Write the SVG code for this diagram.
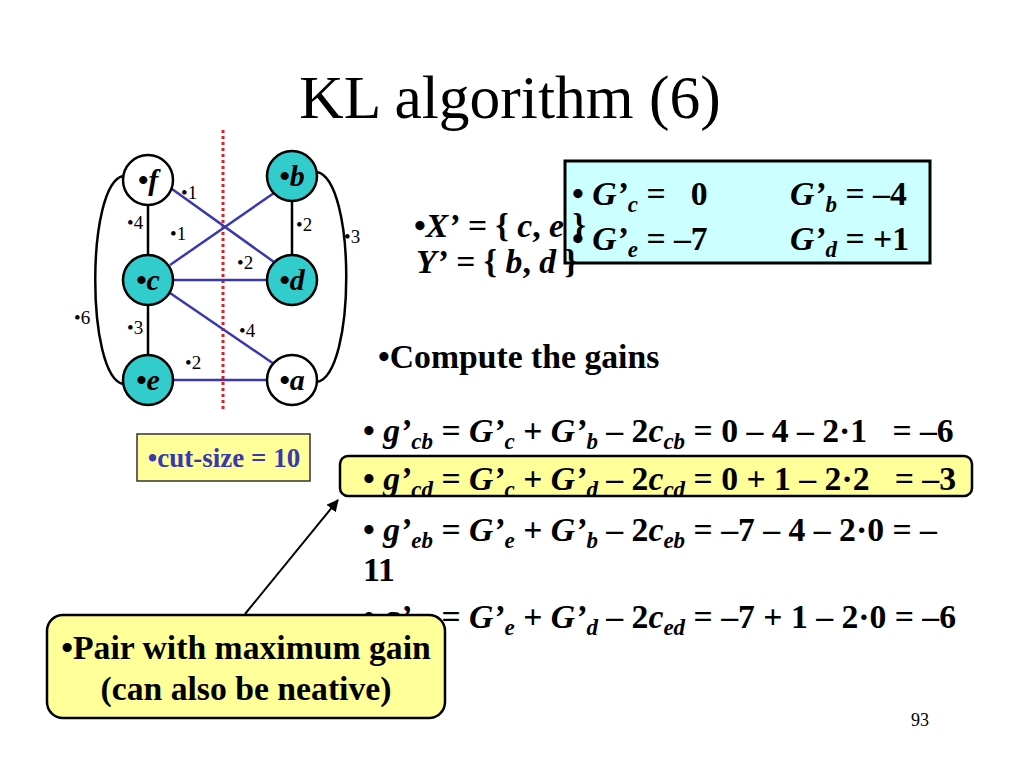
<svg xmlns="http://www.w3.org/2000/svg" width="1024" height="768" viewBox="0 0 1024 768">
<style>
.t{font-family:"Liberation Serif","Times New Roman",serif;}
.b{font-weight:bold;}
.i{font-style:italic;}
.node{stroke:#000;stroke-width:2.5;}
.teal{fill:#33CCCC;}
.white{fill:#fff;}
.nl{font-family:"Liberation Serif","Times New Roman",serif;font-weight:bold;font-style:italic;font-size:30px;text-anchor:middle;}
.w{font-family:"Liberation Serif","Times New Roman",serif;font-size:19px;}
.blk{stroke:#000;stroke-width:2.5;fill:none;}
.blu{stroke:#3838B0;stroke-width:2.5;fill:none;}
.eq{font-family:"Liberation Serif","Times New Roman",serif;font-weight:bold;font-size:33.7px;}
.s{font-size:23px;font-style:italic;}
</style>
<defs>
<marker id="ah" markerWidth="12" markerHeight="12" refX="11" refY="6" orient="auto" markerUnits="userSpaceOnUse">
<path d="M0,0 L12,6 L0,12 z" fill="#000"/>
</marker>
</defs>
<rect width="1024" height="768" fill="#fff"/>
<text class="t" x="510" y="118" font-size="61.5" text-anchor="middle">KL algorithm (6)</text>

<line x1="223" y1="130" x2="223" y2="412" stroke="#E02020" stroke-width="3" stroke-dasharray="3,3"/>

<g id="connectors">
<line class="blk" x1="148" y1="205" x2="148" y2="255"/>
<line class="blk" x1="148" y1="305" x2="148" y2="355"/>
<line class="blk" x1="292" y1="201" x2="292" y2="255"/>
<path class="blk" d="M123,176 C86,184 86,376 123,384"/>
<path class="blk" d="M317,172 C356,180 356,374 317,382"/>
<line class="blu" x1="172" y1="189" x2="274" y2="262"/>
<line class="blu" x1="170" y1="265" x2="274" y2="193"/>
<line class="blu" x1="173" y1="280" x2="267" y2="280"/>
<line class="blu" x1="170" y1="293" x2="274" y2="364"/>
<line class="blu" x1="173" y1="380" x2="267" y2="380"/>
<line x1="245" y1="614" x2="338" y2="500" stroke="#000" stroke-width="2" marker-end="url(#ah)"/>
</g>

<g id="weights">
<text class="w" x="181" y="199">•1</text>
<text class="w" x="127" y="229">•4</text>
<text class="w" x="170" y="240">•1</text>
<text class="w" x="296" y="231">•2</text>
<text class="w" x="344" y="243">•3</text>
<text class="w" x="237" y="269">•2</text>
<text class="w" x="74" y="324">•6</text>
<text class="w" x="127" y="334">•3</text>
<text class="w" x="239" y="337">•4</text>
<text class="w" x="185" y="369">•2</text>
</g>

<g id="node-f"><circle class="node white" cx="148" cy="180" r="25"/><text class="nl" x="148" y="190">•f</text></g>
<g id="node-b"><circle class="node teal" cx="292" cy="176" r="25"/><text class="nl" x="292" y="186">•b</text></g>
<g id="node-c"><circle class="node teal" cx="148" cy="280" r="25"/><text class="nl" x="148" y="290">•c</text></g>
<g id="node-d"><circle class="node teal" cx="292" cy="280" r="25"/><text class="nl" x="292" y="290">•d</text></g>
<g id="node-e"><circle class="node teal" cx="148" cy="380" r="25"/><text class="nl" x="148" y="390">•e</text></g>
<g id="node-a"><circle class="node white" cx="292" cy="380" r="25"/><text class="nl" x="292" y="390">•a</text></g>

<g id="cutsize">
<rect x="137" y="434" width="173" height="47" fill="#FFFF99" stroke="#333" stroke-width="1.5"/>
<text class="t b" x="224" y="467" font-size="27" fill="#3838B0" text-anchor="middle">•cut-size = 10</text>
</g>

<g id="gbox">
<rect x="565" y="161" width="365" height="102" fill="#CCFFFF" stroke="#000" stroke-width="3"/>
<text class="eq" x="572" y="205" font-size="32" xml:space="preserve">• <tspan class="i">G’</tspan><tspan class="s" dy="7">c</tspan><tspan dy="-7"> =   0</tspan></text>
<text class="eq" x="790" y="205" font-size="32"><tspan class="i">G’</tspan><tspan class="s" dy="7">b</tspan><tspan dy="-7"> = –4</tspan></text>
<text class="eq" x="572" y="250" font-size="32" xml:space="preserve">• <tspan class="i">G’</tspan><tspan class="s" dy="7">e</tspan><tspan dy="-7"> = –7</tspan></text>
<text class="eq" x="790" y="250" font-size="32"><tspan class="i">G’</tspan><tspan class="s" dy="7">d</tspan><tspan dy="-7"> = +1</tspan></text>
</g>

<g id="sets">
<text class="eq" x="414" y="237" font-size="30"><tspan>•</tspan><tspan class="i">X’</tspan> = { <tspan class="i">c</tspan>, <tspan class="i">e</tspan> }</text>
<text class="eq" x="416" y="273" font-size="30"><tspan class="i">Y’</tspan> = { <tspan class="i">b</tspan>, <tspan class="i">d</tspan> }</text>
</g>

<text class="eq" x="378" y="368" font-size="31.8">•Compute the gains</text>

<g id="gains">
<text class="eq" x="363" y="442" xml:space="preserve">• <tspan class="i">g’</tspan><tspan class="s" dy="7">cb</tspan><tspan dy="-7"> = </tspan><tspan class="i">G’</tspan><tspan class="s" dy="7">c</tspan><tspan dy="-7"> + </tspan><tspan class="i">G’</tspan><tspan class="s" dy="7">b</tspan><tspan dy="-7"> – 2</tspan><tspan class="i">c</tspan><tspan class="s" dy="7">cb</tspan><tspan dy="-7"> = 0 – 4 – 2·1   = –6</tspan></text>
<rect x="340" y="456" width="632" height="40" rx="8" fill="#FFFF99" stroke="#000" stroke-width="2.5"/>
<text class="eq" x="363" y="490" xml:space="preserve">• <tspan class="i">g’</tspan><tspan class="s" dy="7">cd</tspan><tspan dy="-7"> = </tspan><tspan class="i">G’</tspan><tspan class="s" dy="7">c</tspan><tspan dy="-7"> + </tspan><tspan class="i">G’</tspan><tspan class="s" dy="7">d</tspan><tspan dy="-7"> – 2</tspan><tspan class="i">c</tspan><tspan class="s" dy="7">cd</tspan><tspan dy="-7"> = 0 + 1 – 2·2   = –3</tspan></text>
<text class="eq" x="363" y="541" xml:space="preserve">• <tspan class="i">g’</tspan><tspan class="s" dy="7">eb</tspan><tspan dy="-7"> = </tspan><tspan class="i">G’</tspan><tspan class="s" dy="7">e</tspan><tspan dy="-7"> + </tspan><tspan class="i">G’</tspan><tspan class="s" dy="7">b</tspan><tspan dy="-7"> – 2</tspan><tspan class="i">c</tspan><tspan class="s" dy="7">eb</tspan><tspan dy="-7"> = –7 – 4 – 2·0 = –</tspan></text>
<text class="eq" x="363" y="581">11</text>
<text class="eq" x="363" y="628" xml:space="preserve">• <tspan class="i">g’</tspan><tspan class="s" dy="7">ed</tspan><tspan dy="-7"> = </tspan><tspan class="i">G’</tspan><tspan class="s" dy="7">e</tspan><tspan dy="-7"> + </tspan><tspan class="i">G’</tspan><tspan class="s" dy="7">d</tspan><tspan dy="-7"> – 2</tspan><tspan class="i">c</tspan><tspan class="s" dy="7">ed</tspan><tspan dy="-7"> = –7 + 1 – 2·0 = –6</tspan></text>
</g>

<g id="callout">
<rect x="47" y="615" width="398" height="103" rx="16" fill="#FFFF99" stroke="#000" stroke-width="2.5"/>
<text class="eq" x="246" y="659" font-size="35" text-anchor="middle">•Pair with maximum gain</text>
<text class="eq" x="246" y="700" font-size="35" text-anchor="middle">(can also be neative)</text>
</g>

<text class="t" x="920" y="726" font-size="18" text-anchor="middle">93</text>
</svg>
